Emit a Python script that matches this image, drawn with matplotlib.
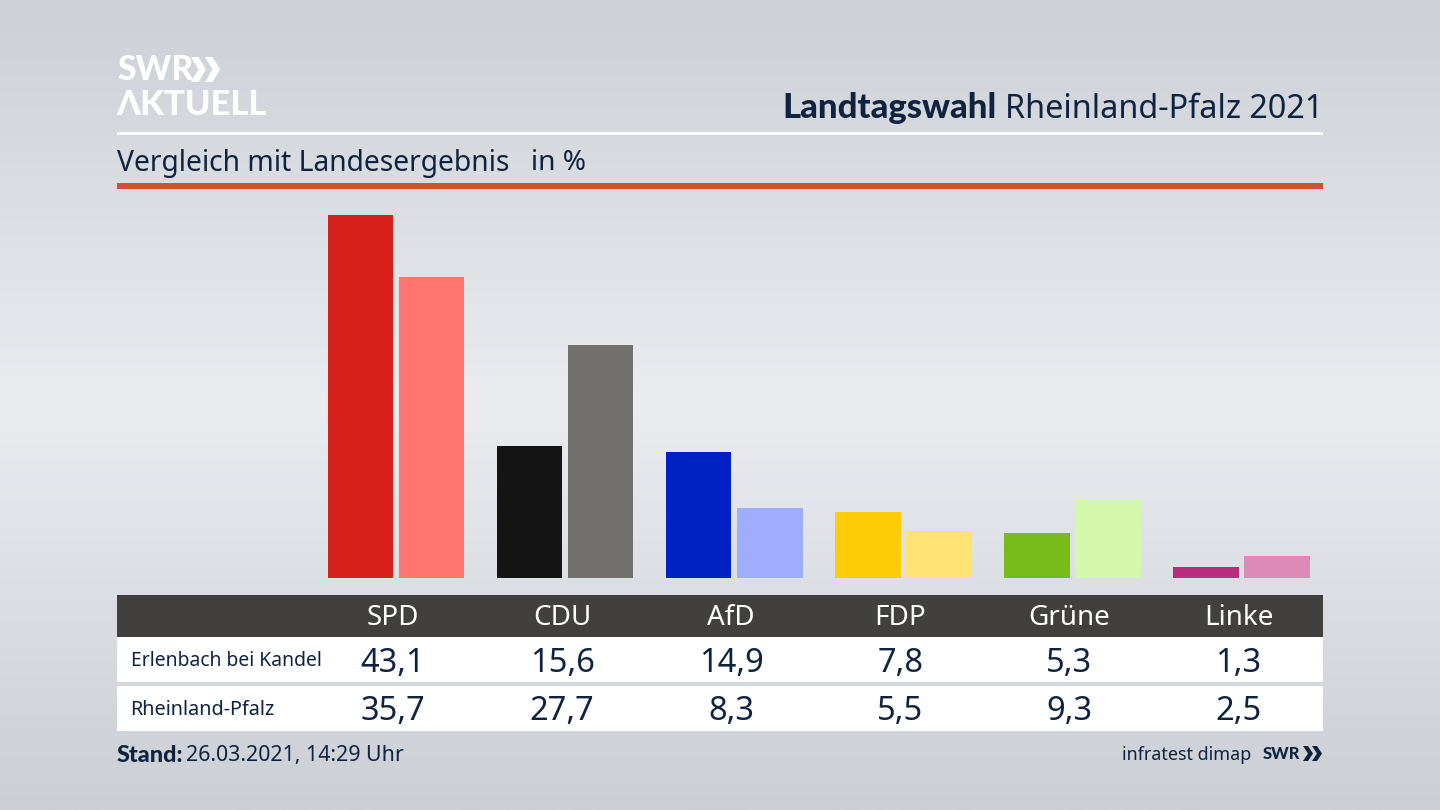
import numpy as np
import matplotlib
matplotlib.use("Agg")
import matplotlib.pyplot as plt
from matplotlib.patches import Rectangle, Polygon

parties = ["SPD", "CDU", "AfD", "FDP", "Grüne", "Linke"]
local_label = "Erlenbach bei Kandel"
state_label = "Rheinland-Pfalz"
local_values = [43.1, 15.6, 14.9, 7.8, 5.3, 1.3]
state_values = [35.7, 27.7, 8.3, 5.5, 9.3, 2.5]
local_colors = ["#d7201c", "#141414", "#0021c4", "#ffcc0a", "#78bc1c", "#b82c7c"]
state_colors = ["#ff7570", "#72706d", "#9fadff", "#ffe274", "#d5f7ab", "#de8ab8"]

NAVY = "#0f2340"
plt.rcParams["font.family"] = ["Noto Sans", "DejaVu Sans"]
BOLD = ["Lato", "DejaVu Sans"]
fig = plt.figure(figsize=(14.4, 8.1), dpi=100)

# background gradient
bg = fig.add_axes([0, 0, 1, 1], zorder=0)
bg.set_axis_off()
stops_y = np.array([0, 0.15, 0.5, 0.85, 1.0])
stops_v = np.array([[205, 208, 214], [213, 216, 221], [234, 236, 240], [212, 215, 220], [203, 206, 212]]) / 255
yy = np.linspace(0, 1, 810)
grad = np.stack([np.interp(yy, stops_y, stops_v[:, i]) for i in range(3)], axis=1)[:, None, :]
bg.imshow(grad, aspect="auto", extent=(0, 1440, 810, 0), interpolation="bilinear")

# pixel-space overlay
ov = fig.add_axes([0, 0, 1, 1], zorder=1)
ov.set_xlim(0, 1440)
ov.set_ylim(810, 0)
ov.set_axis_off()
ov.patch.set_alpha(0)

def band(x0, y0, x1, y1, color):
    ov.add_patch(Rectangle((x0, y0), x1 - x0, y1 - y0, fc=color, ec="none"))

def chevrons(x, y, h, w, color, gap):
    for k in range(2):
        dx = x + k * gap
        t = w * 0.5
        ov.add_patch(Polygon([(dx, y), (dx + t, y), (dx + w, y + h / 2), (dx + t, y + h),
                              (dx, y + h), (dx + w - t, y + h / 2)], fc=color, ec="none"))

band(117, 132, 1323, 135, "#ffffff")
band(117, 183, 1323, 189, "#cd523a")
band(117, 595, 1323, 637, "#41403e")
band(117, 637, 1323, 682, "#ffffff")
band(117, 686, 1323, 731, "#ffffff")

# logo
ov.text(117, 70, "SWR", color="white", fontsize=24.3, family=BOLD, fontweight="black", va="center", ha="left")
chevrons(191, 57, 25, 15, "white", 14)
ov.text(116, 105, "ΛKTUELL", color="white", fontsize=24.8, family=BOLD, fontweight="black", va="center", ha="left")

# title
ov.text(1323, 109, "Rheinland-Pfalz 2021", color=NAVY, fontsize=23.3, ha="right", va="center")
ov.text(997, 108, "Landtagswahl", color=NAVY, fontsize=24.9, family=BOLD, fontweight="black", ha="right", va="center")
ov.text(117, 163, "Vergleich mit Landesergebnis", color=NAVY, fontsize=20.35, ha="left", va="center")
ov.text(531, 163, "in %", color=NAVY, fontsize=20.2, ha="left", va="center")

# bars
ax = fig.add_axes([117 / 1440, 1 - 577.5 / 810, (1323 - 117) / 1440, 388.5 / 810], zorder=2)
ax.patch.set_alpha(0)
ax.set_axis_off()
ax.set_ylim(0, 388.5 / 8.41)
ax.set_xlim((117 - 393) / 169.1, (1323 - 393) / 169.1)
pos = np.arange(len(parties))
w = 65.5 / 169.1
ax.bar(pos - 0.192, local_values, width=w, color=local_colors, align="center")
ax.bar(pos + 0.228, state_values, width=w, color=state_colors, align="center")

# table
for i, name in enumerate(parties):
    cx = 393 + i * 169.1
    ov.text(cx, 618, name, color="white", fontsize=20, ha="center", va="center")
    ov.text(cx, 663, f"{local_values[i]:.1f}".replace(".", ","), color=NAVY, fontsize=23.5, ha="center", va="center")
    ov.text(cx, 712, f"{state_values[i]:.1f}".replace(".", ","), color=NAVY, fontsize=23.5, ha="center", va="center")
ov.text(131, 661, local_label, color=NAVY, fontsize=13.9, ha="left", va="center")
ov.text(130.5, 710, state_label, color=NAVY, fontsize=14.3, ha="left", va="center")

# footer
ov.text(117, 756, "Stand:", color=NAVY, fontsize=16.8, family=BOLD, fontweight="black", ha="left", va="center")
ov.text(186, 756, "26.03.2021, 14:29 Uhr", color=NAVY, fontsize=15.4, ha="left", va="center")
ov.text(1251, 755, "infratest dimap", color=NAVY, fontsize=12.9, ha="right", va="center")
ov.text(1263, 754, "SWR", color=NAVY, fontsize=12, family=BOLD, fontweight="black", ha="left", va="center")
chevrons(1303, 746, 15, 10, NAVY, 9)

fig.savefig("out.png", dpi=100)
